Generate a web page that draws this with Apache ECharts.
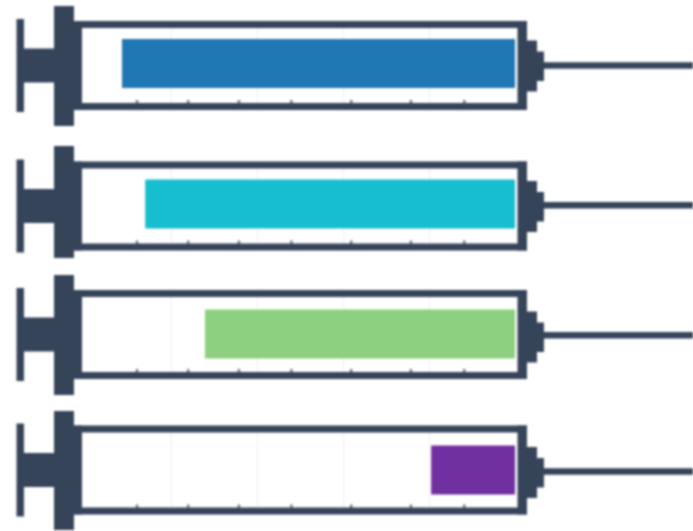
<!DOCTYPE html>
<html>
<head>
<meta charset="utf-8">
<style>
html,body{margin:0;padding:0;background:#fff;overflow:hidden}
#c{width:693px;height:531px;filter:blur(0.85px)}
</style>
<script src="https://cdn.jsdelivr.net/npm/echarts@6/dist/echarts.min.js"></script>
</head>
<body>
<div id="c"></div>
<script>
// Data
const categories = ['Syringe 1', 'Syringe 2', 'Syringe 3', 'Syringe 4'];
const fillValues = [91.4, 86, 72.1, 19.5];
const scaleTicks = [87.9, 76, 64.2, 52, 38.1, 24.2, 11.8];
const colors = ['#1f78b4', '#17becf', '#8dd07f', '#7030a0'];

// Layout
const barCentres = [63.5, 204, 334, 470];
const frameShift = [2, 2, 0.5, 0];
const flangeUp = [59.5, 60, 59.5, 59];
const flangeDown = [60.5, 52, 60.5, 60];
const nozzleShift = [0, 0, 2, 2];
const needleShift = [0, -0.7, 0.8, 1.5];
const STEEL = '#36445a';
const TICK = '#6d7686';
const GRID_H = 80;

const chart = echarts.init(document.getElementById('c'), null, {renderer: 'canvas'});

function syringeRenderer(idx) {
  return function (params, api) {
    const left = api.coord([100, categories[idx]]);
    const right = api.coord([0, categories[idx]]);
    const lx = left[0], rx = right[0];
    const c = left[1] + frameShift[idx];
    const nz = c + nozzleShift[idx];
    const nd = c + needleShift[idx];
    const R = (x0, x1, y0, y1, fill) => ({
      type: 'rect',
      shape: {x: x0, y: y0, width: x1 - x0, height: y1 - y0},
      style: {fill: fill || STEEL}
    });
    const kids = [];
    scaleTicks.forEach(function (t) {
      const x = api.coord([t, categories[idx]])[0];
      kids.push(R(x - 1.2, x + 1.2, c + 34.5, c + 38, TICK));
    });
    kids.push(
      R(lx - 68.5, lx - 61, c - 46.5, c + 46.5),       // thumb rest
      R(lx - 61, lx - 30, c - 17, c + 17),             // rod
      R(lx - 31, lx - 11, c - flangeUp[idx], c + flangeDown[idx]), // flange
      R(lx - 11, lx - 3, c - 44.5, c + 44.5),          // left wall
      R(lx - 11, rx + 12, c - 44.5, c - 37.5),         // top wall
      R(lx - 11, rx + 12, c + 37.5, c + 44.5),         // bottom wall
      R(rx + 2.5, rx + 12, c - 44.5, c + 44.5),        // right wall
      R(rx + 12, rx + 22, nz - 25, nz + 26),           // nozzle step 1
      R(rx + 22, rx + 29, nz - 14, nz + 15.5),         // nozzle step 2
      R(rx + 29, rx + 190, nd - 3.3, nd + 3.3)         // needle
    );
    return {type: 'group', children: kids};
  };
}

const grids = [], xAxes = [], yAxes = [], series = [];
categories.forEach(function (name, i) {
  grids.push({left: 85, width: 430, top: barCentres[i] - GRID_H / 2, height: GRID_H});
  xAxes.push({
    gridIndex: i, type: 'value', inverse: true, min: 0, max: 100, interval: 20,
    axisLine: {show: false}, axisTick: {show: false}, axisLabel: {show: false},
    splitLine: {show: true, showMinLine: false, showMaxLine: false, lineStyle: {color: '#eeeeee', width: 1}}
  });
  yAxes.push({gridIndex: i, type: 'category', data: [name], show: false});
  series.push({
    type: 'custom', xAxisIndex: i, yAxisIndex: i, z: 3, silent: true,
    renderItem: syringeRenderer(i), data: [[0, name]],
    encode: {x: 0, y: 1}
  });
  series.push({
    type: 'bar', xAxisIndex: i, yAxisIndex: i, z: 4, barWidth: 49,
    data: [fillValues[i]], itemStyle: {color: colors[i]}, silent: true
  });
});

chart.setOption({
  backgroundColor: '#fff',
  animation: false,
  grid: grids, xAxis: xAxes, yAxis: yAxes, series: series
});
</script>
</body>
</html>
